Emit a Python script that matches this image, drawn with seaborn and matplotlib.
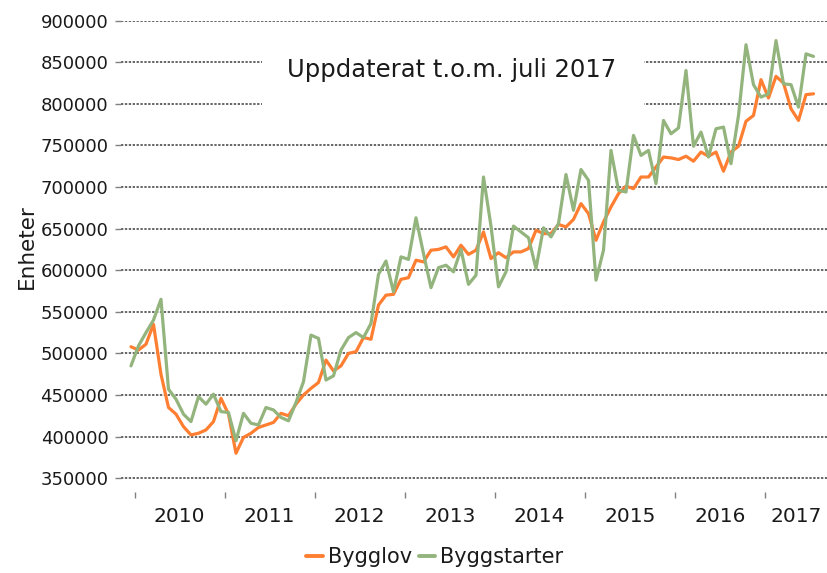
import numpy as np
import pandas as pd
import matplotlib
matplotlib.use("Agg")
import matplotlib.pyplot as plt
from matplotlib.patches import Rectangle
from matplotlib.lines import Line2D
import seaborn as sns

# ---- data (monthly, Dec 2009 .. Jul 2017) ----
months = pd.period_range("2009-12", "2017-07", freq="M")
bygglov = [508000, 504000, 511000, 535000, 475000, 435000, 427000, 412000, 402000, 404000,
           408000, 418000, 446000, 427000, 380000, 399000, 404000, 411000, 414000, 417000,
           428000, 425000, 439000, 450000, 458000, 465000, 492000, 479000, 485000, 500000,
           502000, 519000, 517000, 558000, 570000, 571000, 589000, 591000, 612000, 610000,
           624000, 625000, 628000, 616000, 630000, 619000, 624000, 646000, 614000, 621000,
           615000, 622000, 622000, 626000, 648000, 644000, 644000, 655000, 652000, 661000,
           680000, 668000, 636000, 658000, 676000, 692000, 701000, 698000, 712000, 712000,
           724000, 736000, 735000, 733000, 737000, 731000, 742000, 737000, 742000, 719000,
           742000, 749000, 779000, 786000, 829000, 807000, 833000, 825000, 794000, 780000,
           811000, 812000]
byggstarter = [485000, 509000, 525000, 540000, 565000, 457000, 445000, 427000, 418000, 448000,
               439000, 451000, 430000, 429000, 395000, 428000, 416000, 414000, 435000, 432000,
               423000, 419000, 441000, 466000, 522000, 518000, 468000, 473000, 504000, 519000,
               525000, 519000, 536000, 595000, 611000, 574000, 616000, 613000, 663000, 620000,
               579000, 603000, 606000, 598000, 625000, 583000, 594000, 712000, 653000, 580000,
               598000, 653000, 646000, 639000, 602000, 651000, 640000, 656000, 715000, 672000,
               721000, 708000, 588000, 624000, 744000, 696000, 694000, 762000, 738000, 744000,
               704000, 780000, 764000, 771000, 840000, 749000, 766000, 736000, 770000, 772000,
               728000, 786000, 871000, 823000, 808000, 812000, 876000, 824000, 823000, 796000,
               860000, 857000]
series_names = ["Bygglov", "Byggstarter"]
colors = ["#FF7F32", "#93B47D"]
years = [2010, 2011, 2012, 2013, 2014, 2015, 2016, 2017]
yticks = list(range(350000, 900001, 50000))
note = "Uppdaterat t.o.m. juli 2017"

pos = np.arange(len(months))
df = pd.concat([
    pd.DataFrame({"pos": pos, "value": bygglov, "series": series_names[0]}),
    pd.DataFrame({"pos": pos, "value": byggstarter, "series": series_names[1]}),
])

sns.set_theme(style="white")
plt.rcParams["font.family"] = ["DejaVu Sans"]
txt = "#1a1a1a"

W, H = 827, 573
fig = plt.figure(figsize=(W / 100, H / 100), dpi=100)
ax_l, ax_r, ax_t, ax_b = 121, 827, 20.6, 492
ax = fig.add_axes([ax_l / W, (H - ax_b) / H, (ax_r - ax_l) / W, (ax_b - ax_t) / H])

sns.lineplot(data=df, x="pos", y="value", hue="series", palette=dict(zip(series_names, colors)),
             linewidth=2.3, ax=ax, legend=False)

xmin, xmax = -1.33, 92.8
ax.set_xlim(xmin, xmax)
ax.set_ylim(333400, 900000)
for s in ax.spines.values():
    s.set_visible(False)

ax.set_yticks(yticks)
ax.set_yticklabels([str(v) for v in yticks], fontsize=13, color=txt)
ax.yaxis.grid(True, color="#666666", linestyle=(0, (1.2, 0.8)), linewidth=1.4)
ax.set_axisbelow(True)
ax.tick_params(axis="y", which="major", left=True, length=4, width=1, color="#808080", pad=5)

# year boundaries as major ticks, year labels centred as minor ticks
first_jan = list(months.month).index(1)
bounds = [first_jan - 0.5 + 12 * k for k in range(len(years))]
ax.set_xticks(bounds)
ax.set_xticklabels([""] * len(bounds))
ax.tick_params(axis="x", which="major", bottom=True, length=4, width=1, color="#808080")
centers = [(b + min(b + 12, xmax)) / 2 for b in bounds]
ax.set_xticks(centers, minor=True)
ax.set_xticklabels([str(y) for y in years], minor=True, fontsize=14.5, color=txt)
ax.tick_params(axis="x", which="minor", length=0, pad=11)
ax.set_xlabel("")
ax.set_ylabel("")

fig.text(27 / W, 1 - 247 / H, "Enheter", rotation=90, ha="center", va="center",
         fontsize=15.5, color=txt)

# white note box
ax.add_patch(Rectangle((262 / W, (H - 112) / H), (644 - 262) / W, 82 / H,
                       transform=fig.transFigure, facecolor="white", edgecolor="none",
                       zorder=1.5))
fig.text(452 / W, (H - 77.3) / H, note, ha="center", va="baseline", fontsize=17.5,
         color=txt, zorder=5)

handles = [Line2D([], [], color=c, linewidth=2.8) for c in colors]
fig.legend(handles, series_names, loc="center", bbox_to_anchor=(435 / W, 1 - 557 / H),
           ncol=2, frameon=False, fontsize=15, handlelength=0.8, handletextpad=0.25,
           columnspacing=0.3, labelcolor=txt)

fig.savefig("out.png", dpi=100)
